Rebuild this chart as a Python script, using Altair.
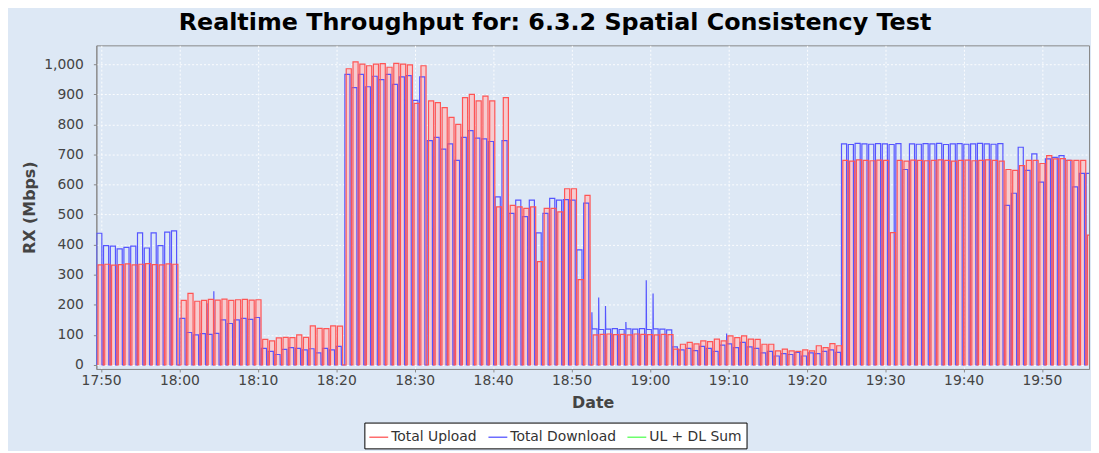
import altair as alt
import pandas as pd
from datetime import datetime, timedelta

# ---------------- data ----------------
DAY = "2024-05-14"
PULSE_PERIOD_S = 52          # one test cycle
UPLOAD_LAG_S = 10            # upload pulse starts a little after download

SEG_START = ["17:49:26", "18:00:02", "18:10:26", "18:21:05", "18:31:35", "18:42:00",
             "18:52:35", "19:02:50", "19:14:06", "19:24:25", "19:45:13"]

UP_A = [333, 335, 332, 334, 336, 333, 335, 337, 334, 333, 336, 335]
DN_A = [438, 397, 395, 386, 391, 395, 439, 389, 439, 397, 442, 446]

UP_B = [215, 238, 212, 215, 218, 216, 219, 215, 217, 218, 216, 217]
DN_B = [155, 108, 100, 104, 102, 105, 150, 138, 150, 155, 152, 158]
DN_PEAK_B = {4: 205, 5: 245}

UP_C = [85, 80, 90, 92, 91, 100, 92, 130, 122, 121, 130, 129]
DN_C = [55, 45, 35, 52, 58, 55, 50, 54, 40, 55, 50, 62]

UP_D = [985, 1008, 1000, 995, 1000, 1002, 990, 1003, 1000, 998, 870, 995]
DN_D = [966, 922, 966, 925, 960, 949, 966, 933, 958, 962, 880, 958]

UP_E = [878, 872, 856, 823, 800, 889, 900, 878, 894, 878, 526, 889]
DN_E = [746, 757, 718, 735, 680, 757, 779, 754, 752, 743, 559, 746]

UP_G = [531, 526, 521, 526, 344, 521, 521, 509, 586, 586, 284, 564]
DN_G = [504, 548, 493, 548, 439, 504, 554, 548, 550, 548, 383, 538]

UP_H = [100, 102, 103, 101, 102, 100, 103, 102, 101, 100, 102, 101]
DN_H = [120, 118, 119, 121, 118, 120, 119, 121, 118, 120, 119, 117]
DN_PEAK_H = {0: 175, 1: 224, 2: 196, 5: 143, 8: 282, 9: 238}

UP_I = [53, 69, 75, 70, 80, 78, 86, 80, 97, 91, 97, 86, 85]
DN_I = [60, 50, 55, 48, 62, 55, 45, 66, 70, 58, 75, 60, 55]
DN_PEAK_I = {8: 105}

UP_J = [69, 69, 47, 53, 47, 45, 50, 47, 64, 58, 71, 64]
DN_J = [40, 45, 30, 38, 35, 42, 30, 40, 38, 45, 50, 42]

UP_K = [680, 678, 682, 680, 679, 681, 680, 440, 680, 678, 681, 680,
        679, 680, 682, 680, 678, 680, 681, 679, 680, 682, 680, 678]
DN_K = [735, 733, 737, 735, 734, 736, 735, 733, 736, 650, 735, 734,
        736, 735, 737, 733, 735, 736, 734, 735, 737, 735, 734, 736]

UP_L = [650, 647, 663, 680, 680, 670, 696, 685, 686, 680, 680, 680, 432]
DN_L = [531, 571, 724, 647, 702, 608, 685, 690, 696, 680, 592, 637, 637]

TICK_TIMES = ["17:50", "18:00", "18:10", "18:20", "18:30", "18:40", "18:50",
              "19:00", "19:10", "19:20", "19:30", "19:40", "19:50"]

SERIES = ["Total Upload", "Total Download", "UL + DL Sum"]
COLORS = ["#ff5555", "#5555ff", "#55ff55"]

# ---------------- build the table ----------------
segments = [
    (UP_A, DN_A, {}), (UP_B, DN_B, DN_PEAK_B), (UP_C, DN_C, {}), (UP_D, DN_D, {}),
    (UP_E, DN_E, {}), (UP_G, DN_G, {}), (UP_H, DN_H, DN_PEAK_H), (UP_I, DN_I, DN_PEAK_I),
    (UP_J, DN_J, {}), (UP_K, DN_K, {}), (UP_L, DN_L, {}),
]

rows = []
def pulse(t0, level, peak, name):
    for dt, v in [(0, 0), (1, peak), (3, level), (40, level), (41, 0)]:
        rows.append({"time": (t0 + timedelta(seconds=dt)).strftime("%Y-%m-%dT%H:%M:%S"),
                     "value": v, "series": name})

for start, (ups, dns, peaks) in zip(SEG_START, segments):
    t_seg = datetime.fromisoformat(f"{DAY}T{start}")
    for k, (u, d) in enumerate(zip(ups, dns)):
        t0 = t_seg + timedelta(seconds=k * PULSE_PERIOD_S)
        pulse(t0, d, peaks.get(k, d), "Total Download")
        pulse(t0 + timedelta(seconds=UPLOAD_LAG_S), u, u, "Total Upload")

df = pd.DataFrame(rows)

def dt_obj(hhmm, sec=0):
    h, m = hhmm.split(":")
    return alt.DateTime(year=2024, month=5, date=14, hours=int(h), minutes=int(m), seconds=sec)

FONT = "DejaVu Sans"
x_domain = [dt_obj("17:49", 24), dt_obj("19:56", 0)]
x_ticks = [dt_obj(t) for t in TICK_TIMES]

x_enc = alt.X("time:T",
              scale=alt.Scale(domain=x_domain, nice=False),
              axis=alt.Axis(format="%H:%M", values=x_ticks,
                            title="Date", labelFlush=False,
                            titleX=500, titleY=39, titleBaseline="alphabetic",
                            labelPadding=2))
y_scale = alt.Scale(domain=[-13.2, 1062.7], nice=False, zero=False)
y_axis = alt.Axis(values=list(range(0, 1001, 100)), format=",d", title="RX (Mbps)",
                  titleX=-62, titleY=163, titleBaseline="alphabetic", labelPadding=10)

color_scale = alt.Scale(domain=SERIES, range=COLORS)

base = alt.Chart(df)

fill = base.transform_filter(alt.datum.series == "Total Upload").mark_area(
    color="#f6cbcf", clip=True
).encode(x=x_enc, y=alt.Y("value:Q", scale=y_scale, axis=y_axis, stack=None), y2=alt.datum(0))

blue = base.transform_filter(alt.datum.series == "Total Download").mark_line(
    strokeWidth=1.2, clip=True
).encode(x=x_enc, y=alt.Y("value:Q", scale=y_scale, axis=y_axis),
         color=alt.Color("series:N", scale=color_scale, title=None))

red = base.transform_filter(alt.datum.series == "Total Upload").mark_line(
    strokeWidth=1.2, clip=True
).encode(x=x_enc, y=alt.Y("value:Q", scale=y_scale, axis=y_axis),
         color=alt.Color("series:N", scale=color_scale, title=None))

chart = alt.layer(fill, blue, red).properties(
    width=1000, height=326,
    title=alt.TitleParams("Realtime Throughput for: 6.3.2 Spatial Consistency Test",
                          font=FONT, fontSize=24, fontWeight="bold", color="black",
                          anchor="middle", frame="group", dx=-38, offset=10),
    autosize=alt.AutoSizeParams(type="none"),
    padding={"left": 89, "top": 36, "right": 2, "bottom": 81},
).configure(
    background="#dde8f5", font=FONT
).configure_view(
    fill="#dde8f5", stroke="#888888", strokeWidth=1
).configure_axis(
    labelFont=FONT, labelFontSize=14, labelColor="#444444",
    titleFont=FONT, titleFontSize=16, titleFontWeight="bold", titleColor="#444444",
    tickColor="#888888", tickSize=3, domainColor="#888888",
    gridColor="#ffffff", gridDash=[2, 2], gridWidth=1, gridOpacity=0.9
).configure_legend(
    orient="none", legendX=270, legendY=380, direction="horizontal",
    symbolType="stroke", symbolSize=361, symbolStrokeWidth=1.3,
    labelFont=FONT, labelFontSize=14, labelColor="#333333", labelOffset=2,
    columnPadding=8, padding=4, fillColor="#ffffff", strokeColor="#000000"
)

chart.save("out.html", embed_options={"renderer": "svg", "actions": False})
